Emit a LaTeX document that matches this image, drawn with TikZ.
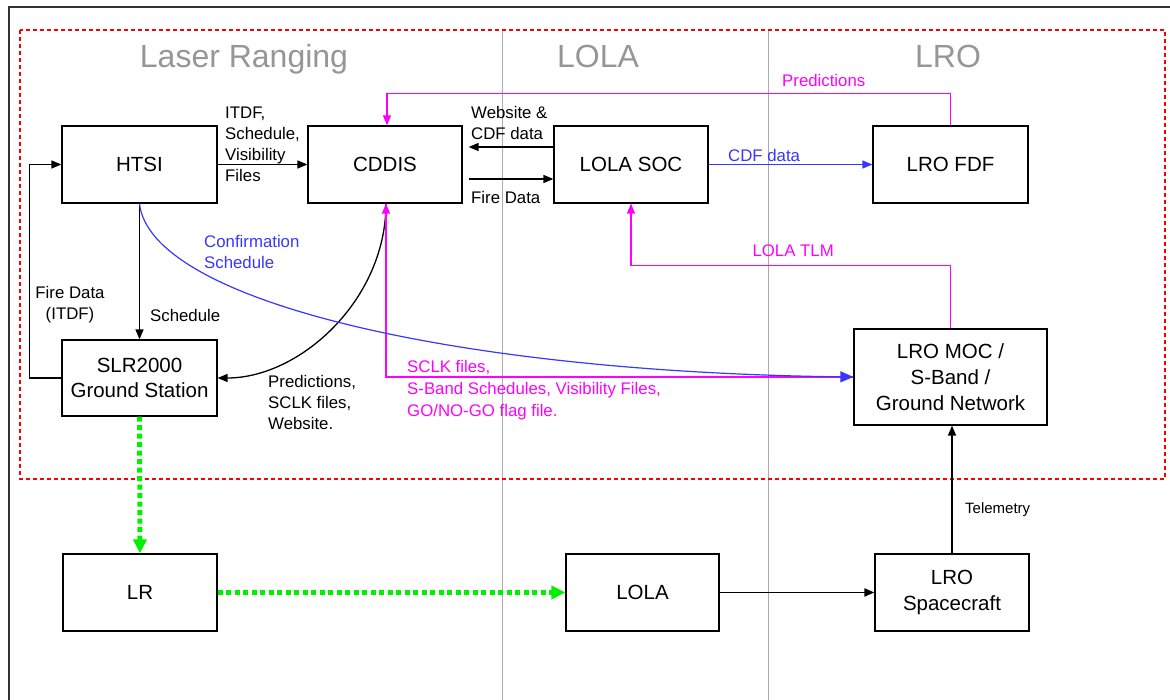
\documentclass[tikz,border=0pt]{standalone}
\usepackage{fontspec}
\setmainfont{Liberation Sans}
\usetikzlibrary{arrows.meta}
\definecolor{myblue}{RGB}{55,55,255}
\definecolor{mymag}{RGB}{255,0,255}
\definecolor{mygreen}{RGB}{0,240,0}
\definecolor{mygray}{RGB}{150,150,150}
\tikzset{
  box/.style={draw, fill=white, line width=1.2pt, inner sep=0pt, align=center,
    font=\fontsize{20.5}{25}\selectfont},
  lbl/.style={inner sep=0pt, align=left, font=\fontsize{16.8}{21}\selectfont},
  title/.style={inner sep=0pt, text=mygray, font=\fontsize{32}{36}\selectfont, anchor=base},
  arr/.style={line width=1.3pt, -{Triangle[length=10pt,width=8pt]}},
  blarr/.style={line width=1.2pt, myblue, -{Triangle[length=10pt,width=8pt]}},
  magarr/.style={line width=1.2pt, mymag, -{Triangle[length=10pt,width=8pt]}},
  grnarr/.style={line width=5pt, mygreen, dash pattern=on 5pt off 3.5pt, -{Triangle[length=14pt,width=13pt]}}
}
\begin{document}
\begin{tikzpicture}[x=1pt,y=-1pt]
\useasboundingbox (0,0) rectangle (1170,700);
% frame
\draw[line width=1.2pt, black!80] (9,700) -- (9,7) -- (1170,7);
% section lines
\draw[line width=1pt, mygray!80] (502,30) -- (502,700);
\draw[line width=1pt, mygray!80] (768,30) -- (768,700);
% red dashed region
\draw[red, line width=1.1pt, dash pattern=on 4pt off 3pt] (20,30) rectangle (1165,479);
% titles
\node[title] (tlr) at (244,68) {Laser Ranging};
\node[title] (tlola) at (598,68) {LOLA};
\node[title] (tlro) at (948,68) {LRO};
% boxes
\node[box, minimum width=155pt, minimum height=77pt] (htsi) at (139.5,164.5) {HTSI};
\node[box, minimum width=154pt, minimum height=77pt] (cddis) at (385,164.5) {CDDIS};
\node[box, minimum width=154pt, minimum height=77pt] (lolasoc) at (631,164.5) {LOLA SOC};
\node[box, minimum width=155pt, minimum height=77pt] (lrofdf) at (950.5,164.5) {LRO FDF};
\node[box, minimum width=193pt, minimum height=96pt, font=\fontsize{20.5}{26}\selectfont] (lromoc) at (950.5,377) {LRO MOC /\\S-Band /\\Ground Network};
\node[box, minimum width=155pt, minimum height=76pt] (slr) at (139.5,378) {SLR2000\\Ground Station};
\node[box, minimum width=154pt, minimum height=77pt] (lr) at (140,592.5) {LR};
\node[box, minimum width=153pt, minimum height=77pt] (lola) at (642.5,592.5) {LOLA};
\node[box, minimum width=154pt, minimum height=77pt, font=\fontsize{20.5}{26}\selectfont] (lrosc) at (952,592.5) {LRO\\Spacecraft};
% black connectors
\draw[arr] (htsi.east) -- (cddis.west);
\draw[arr] ([yshift=17.5pt]lolasoc.west) -- ([xshift=6pt,yshift=17.5pt]cddis.east);
\draw[arr] ([xshift=6pt,yshift=-14.5pt]cddis.east) -- ([yshift=-14.5pt]lolasoc.west);
\draw[arr] (htsi.south) -- (slr.north);
\draw[arr] (slr.west) -- ++(-32,0) |- (htsi.west);
\draw[arr] ([xshift=1pt]cddis.south) .. controls (386,300) and (300,378) .. (slr.east);
\draw[arr, line width=1.8pt] (lola.east) -- (lrosc.west);
\draw[arr, line width=1.5pt] (lrosc.north) -- (lrosc.north |- lromoc.south);
% magenta
\draw[magarr] (lrofdf.north) -- ++(0,-32) -| ([xshift=2pt]cddis.north);
\draw[magarr] (lromoc.north) -- ++(0,-63) -| (lolasoc.south);
\draw[magarr] (lromoc.west) -| ([xshift=1pt]cddis.south);
% blue
\draw[blarr] (lolasoc.east) -- (lrofdf.west);
\draw[line width=1.2pt, myblue, -{Triangle[length=13pt,width=11pt]}] (htsi.south) .. controls (150,300) and (450,372) .. (lromoc.west);
% green
\draw[grnarr] (slr.south) -- (lr.north);
\draw[grnarr] (lr.east) -- (lola.west);
% labels
\node[lbl, anchor=west] (l1) at (225,144.5) {ITDF,\\Schedule,\\Visibility\\Files};
\node[lbl, anchor=west] (l2) at (471,122.5) {Website \&\\CDF data};
\node[lbl, anchor=base west] (l3) at (471,204) {Fire Data};
\node[lbl, anchor=base west, text=myblue] (l4) at (728,162) {CDF data};
\node[lbl, anchor=base west, text=mymag] (l5) at (782,87) {Predictions};
\node[lbl, anchor=base east, text=mymag] (l6) at (834,257) {LOLA TLM};
\node[lbl, anchor=west, text=myblue] (l7) at (204,251.5) {Confirmation\\Schedule};
\node[lbl, anchor=base west] (l8) at (150,322) {Schedule};
\node[lbl, align=center] (l9) at (70,304.5) {Fire Data\\(ITDF)};
\node[lbl, anchor=west] (l10) at (268,402) {Predictions,\\SCLK files,\\Website.};
\node[lbl, anchor=west, text=mymag, font=\fontsize{16.8}{22}\selectfont] (l11) at (407,390) {SCLK files,\\S-Band Schedules, Visibility Files,\\GO/NO-GO flag file.};
\node[lbl, anchor=base west, font=\fontsize{15}{18}\selectfont] (l12) at (965,513) {Telemetry};
\end{tikzpicture}
\end{document}
